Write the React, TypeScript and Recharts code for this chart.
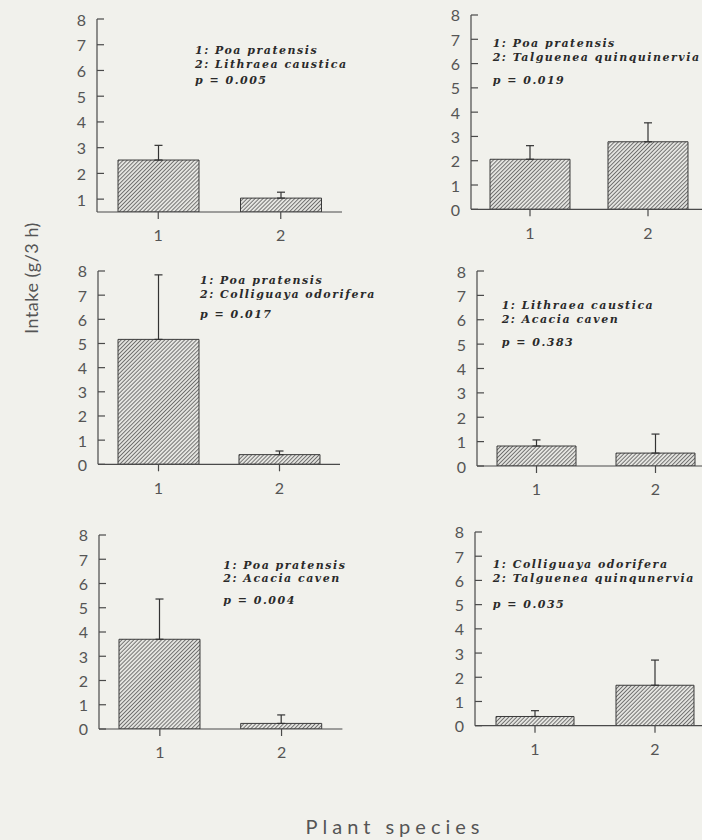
import React from 'react';
import { BarChart, Bar, XAxis, YAxis, ErrorBar } from 'recharts';

// ---------- data ----------
const CATEGORIES = ['1', '2'];
const Y_TICKS = [0, 1, 2, 3, 4, 5, 6, 7, 8];
const Y_TICKS_FROM_ONE = [1, 2, 3, 4, 5, 6, 7, 8];

const P1_MEAN = [2.52, 1.04];
const P1_SE = [0.57, 0.23];
const P1_SPECIES = ['Poa pratensis', 'Lithraea caustica'];
const P1_P = '0.005';

const P2_MEAN = [2.06, 2.78];
const P2_SE = [0.56, 0.78];
const P2_SPECIES = ['Poa pratensis', 'Talguenea quinquinervia'];
const P2_P = '0.019';

const P3_MEAN = [5.17, 0.4];
const P3_SE = [2.67, 0.15];
const P3_SPECIES = ['Poa pratensis', 'Colliguaya odorifera'];
const P3_P = '0.017';

const P4_MEAN = [0.82, 0.53];
const P4_SE = [0.25, 0.78];
const P4_SPECIES = ['Lithraea caustica', 'Acacia caven'];
const P4_P = '0.383';

const P5_MEAN = [3.7, 0.23];
const P5_SE = [1.66, 0.35];
const P5_SPECIES = ['Poa pratensis', 'Acacia caven'];
const P5_P = '0.004';

const P6_MEAN = [0.38, 1.67];
const P6_SE = [0.24, 1.04];
const P6_SPECIES = ['Colliguaya odorifera', 'Talguenea quinqunervia'];
const P6_P = '0.035';

const Y_TITLE = 'Intake (g/3 h)';
const X_TITLE = 'Plant species';

const buildRows = (means: number[], se: number[]) =>
  CATEGORIES.map((c, i) => ({ name: c, mean: means[i], err: [0, se[i]] }));

// ---------- style ----------
const BG = '#f1f1ec';
const AXIS = '#4a4a4a';
const LABEL = '#555';
const SANS = 'Lato, "DejaVu Sans", sans-serif';
const SERIF = '"DejaVu Serif", "Liberation Serif", serif';

const YTick = (props: any) => {
  const { x, y, payload } = props;
  return (
    <g>
      <line x1={x} x2={x + 7} y1={y} y2={y} stroke={AXIS} strokeWidth={1.2} />
      <text
        x={x - 11}
        y={y}
        textAnchor="end"
        dominantBaseline="central"
        fontSize={16}
        fill={LABEL}
        fontFamily={SANS}
      >
        {payload.value}
      </text>
    </g>
  );
};

type PanelProps = {
  axisX: number;
  yTop: number;
  yBottom: number;
  band: number;
  domainMin: number;
  ticks: number[];
  barSize: number;
  means: number[];
  se: number[];
};

const YW = 45;
const MT = 10;
const XH = 40;

const Panel = ({ axisX, yTop, yBottom, band, domainMin, ticks, barSize, means, se }: PanelProps) => {
  const width = YW + 2 * band + 5;
  const height = yBottom - yTop + MT + XH;
  return (
    <div style={{ position: 'absolute', left: axisX - YW, top: yTop - MT }}>
      <BarChart
        width={width}
        height={height}
        data={buildRows(means, se)}
        margin={{ top: MT, right: 5, left: 0, bottom: 0 }}
        barCategoryGap={0}
      >
        <XAxis
          dataKey="name"
          height={XH}
          tickSize={7}
          tickMargin={11}
          axisLine={{ stroke: AXIS, strokeWidth: 1.2 }}
          tickLine={{ stroke: AXIS, strokeWidth: 1.2 }}
          tick={{ fontSize: 16, fill: LABEL, fontFamily: SANS }}
        />
        <YAxis
          type="number"
          width={YW}
          domain={[domainMin, 8]}
          ticks={ticks}
          allowDataOverflow
          tickSize={0}
          tickMargin={0}
          tickLine={false}
          axisLine={{ stroke: AXIS, strokeWidth: 1.2 }}
          tick={<YTick />}
          interval={0}
        />
        <Bar
          dataKey="mean"
          barSize={barSize}
          fill="url(#hatch)"
          stroke="#3a3a3a"
          strokeWidth={1}
          isAnimationActive={false}
        >
          <ErrorBar dataKey="err" direction="y" width={4} stroke="#333" strokeWidth={1.2} />
        </Bar>
      </BarChart>
    </div>
  );
};

type NoteProps = { x: number; baselines: number[]; species: string[]; p: string };

const Note = ({ x, baselines, species, p }: NoteProps) => (
  <g
    fontFamily={SERIF}
    fontStyle="italic"
    fontWeight="bold"
    fontSize={11}
    fill="#2a2a2a"
    letterSpacing={1.5}
  >
    <text x={x} y={baselines[0]}>{`1: ${species[0]}`}</text>
    <text x={x} y={baselines[1]}>{`2: ${species[1]}`}</text>
    <text x={x} y={baselines[2]} xmlSpace="preserve">{`p = ${p}`}</text>
  </g>
);

export default function App() {
  return (
    <div
      style={{
        position: 'absolute',
        left: 0,
        top: 0,
        width: 702,
        height: 840,
        overflow: 'hidden',
        background: BG,
      }}
    >
      <svg width={0} height={0} style={{ position: 'absolute' }}>
        <defs>
          <pattern
            id="hatch"
            patternUnits="userSpaceOnUse"
            width={2.8}
            height={2.8}
            patternTransform="rotate(45)"
          >
            <rect x={0} y={0} width={2.8} height={2.8} fill="#e4e4e0" />
            <line x1={0} y1={0} x2={0} y2={2.8} stroke="#3c3c3c" strokeWidth={1.3} />
          </pattern>
        </defs>
      </svg>

      <Panel axisX={96.7} yTop={19.3} yBottom={212.3} band={122.5} domainMin={0.5} ticks={Y_TICKS_FROM_ONE} barSize={81} means={P1_MEAN} se={P1_SE} />
      <Panel axisX={470.7} yTop={15} yBottom={209.3} band={118} domainMin={0} ticks={Y_TICKS} barSize={80} means={P2_MEAN} se={P2_SE} />
      <Panel axisX={98.3} yTop={270.7} yBottom={464} band={121} domainMin={0} ticks={Y_TICKS} barSize={81} means={P3_MEAN} se={P3_SE} />
      <Panel axisX={477.3} yTop={271} yBottom={466} band={119} domainMin={0} ticks={Y_TICKS} barSize={79} means={P4_MEAN} se={P4_SE} />
      <Panel axisX={99} yTop={535} yBottom={729} band={121.7} domainMin={0} ticks={Y_TICKS} barSize={81} means={P5_MEAN} se={P5_SE} />
      <Panel axisX={475} yTop={532.3} yBottom={726} band={120} domainMin={0} ticks={Y_TICKS} barSize={78} means={P6_MEAN} se={P6_SE} />

      <svg
        width={702}
        height={840}
        style={{ position: 'absolute', left: 0, top: 0, pointerEvents: 'none' }}
      >
        <Note x={195} baselines={[54, 67.5, 83.5]} species={P1_SPECIES} p={P1_P} />
        <Note x={492.7} baselines={[46.7, 61, 83.5]} species={P2_SPECIES} p={P2_P} />
        <Note x={200} baselines={[283.8, 297.6, 318.3]} species={P3_SPECIES} p={P3_P} />
        <Note x={501.7} baselines={[309, 322.8, 345.7]} species={P4_SPECIES} p={P4_P} />
        <Note x={223.3} baselines={[568.6, 582.4, 604.3]} species={P5_SPECIES} p={P5_P} />
        <Note x={492.7} baselines={[567.7, 581.5, 607.7]} species={P6_SPECIES} p={P6_P} />

        <text
          transform="translate(31,278) rotate(-90)"
          textAnchor="middle"
          dominantBaseline="central"
          fontSize={18}
          fill={LABEL}
          fontFamily={SANS}
          letterSpacing={0.5}
        >
          {Y_TITLE}
        </text>
        <text
          x={395}
          y={834}
          textAnchor="middle"
          fontSize={20}
          fill={LABEL}
          fontFamily={SANS}
          letterSpacing={5}
        >
          {X_TITLE}
        </text>
      </svg>
    </div>
  );
}
